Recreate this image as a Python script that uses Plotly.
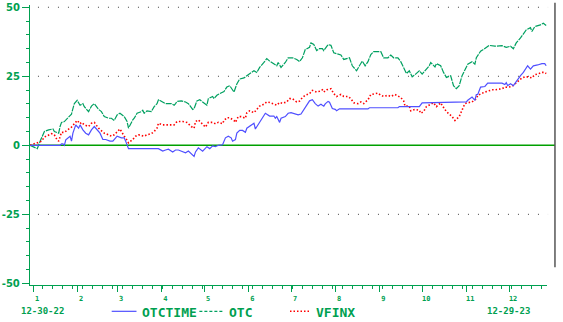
import pandas as pd
import plotly.graph_objects as go

# ---------------- data (days since 2022-12-30, % change) ----------------
start_date = "2022-12-30"

otc_days = [0,5,7,9,10,13,16,17,20,21,22,24,27,29,30,31,33,35,37,38,
            41,43,45,48,50,52,55,57,59,61,63,66,68,69,72,73,75,78,79,80,
            82,85,87,89,90,93,95,99,101,102,103,106,109,111,114,115,117,119,122,124,
            125,128,129,131,133,136,138,140,143,145,147,150,152,154,157,159,161,164,166,168,
            171,173,174,176,179,181,184,187,189,191,193,196,197,199,201,203,205,206,209,211,
            213,216,218,220,224,226,229,231,233,235,237,239,241,246,248,251,253,255,258,260,
            262,264,266,268,270,273,275,277,280,281,284,285,288,290,292,295,297,299,301,303,
            305,307,310,312,313,316,318,320,322,326,331,334,337,339,341,344,346,348,351,352,
            354,358,360,362]
otc_vals = [0,-1.2,1.5,3.8,5,5.6,5.9,5,4.4,6.8,8.3,8.6,10.4,11.3,13.3,15.1,16.3,14.5,15.1,14,
            12.2,14.2,15.1,13,12.2,10.4,9.8,9.8,9,11,11.6,10.4,8.6,6.2,9.2,9.8,11.6,12.2,12.7,11.6,
            12.5,12.2,14,15.1,16.5,15.7,15.1,15.1,14.5,15.1,15.9,16.1,15.7,15.1,13,13.3,16.1,16.5,15.4,14.5,
            16.9,17.7,16.9,18.1,18.7,19.5,21.1,21.6,19.3,22.2,24,24.4,25.2,26,27,26.4,28.2,30,31.4,30.5,
            29.6,28.8,30,28.2,30,31.7,31.7,31.1,30.3,31.7,34.7,35.5,37.1,36.5,34.3,35,35,34.3,36.5,36.2,
            33.5,32.9,32.7,31.1,31.7,28.8,27,28.8,30.5,28.8,30.3,32.9,33.9,33.9,31.7,31.7,32.7,31.7,31.7,30.3,
            28.2,26,27,24.8,25.6,27,25.8,27,28.8,30,28.4,29.6,28.8,26.4,24.6,25.2,21.6,20.5,21.6,25.2,
            27.6,29.4,30.3,29.4,31.7,34.1,34.7,35.3,36.2,35.9,36.1,35.5,35.9,35,37.1,38.9,40.6,41.8,42.6,41.2,
            43,43.6,44.2,43.4]

otctime_days = [0,21,22,23,24,25,28,29,30,32,34,35,37,39,41,43,45,48,49,51,
                53,56,58,60,61,64,66,67,68,69,90,93,95,97,100,102,104,107,109,111,
                114,115,116,118,121,123,124,126,128,130,132,135,136,137,139,141,142,144,145,147,
                149,151,152,154,157,158,160,162,164,165,168,171,172,173,175,176,179,181,183,186,
                188,190,192,194,196,198,200,202,204,205,206,207,209,210,212,214,215,217,237,238,
                258,259,273,275,285,286,306,307,310,311,312,313,314,316,319,321,326,331,333,334,
                335,337,339,341,342,344,346,348,349,351,353,356,359,361,362]
otctime_vals = [0,0,0.5,0.5,0,2,3.3,1.5,4.4,7.4,6.2,7.4,5.6,4.4,3.8,5.6,6.8,5,4.4,2.1,
                2.1,1.5,1.5,2.7,3.3,2.7,2.7,1.5,0.3,-1.2,-1.2,-2.1,-1.7,-1.4,-2.4,-1.7,-1.7,-2.4,-2.7,-2.1,
                -3.8,-4,-2.4,-0.9,-2.1,-1.2,-0.5,-1.2,-0.2,-0.5,0,0.2,1.5,2.7,3.3,2.7,1.5,2.1,4.4,5.4,
                5.4,4.7,6.2,6.8,8,5.9,7.4,9.2,10.4,11.6,10.6,10.6,9.8,10.4,8.3,9.8,10.4,11.6,11.8,11.3,
                11,11.3,13,14.5,16.1,16.5,15.1,14.2,14.9,14.5,14.2,15,15.9,15.6,13.3,13,12.5,13.2,13.2,13.6,
                13.6,14,14,15.4,15.5,15.7,15.7,16.3,17.5,16.9,16.3,18.4,18.4,21.1,21.3,22.5,22.5,22.5,22,22.7,
                21.6,22.3,21.6,23.2,24,25.2,26.4,27.9,28.8,27.6,28.8,29.1,29.6,29.6,28.8]

vfinx_days = [0,6,8,10,13,15,17,18,20,22,24,27,29,31,33,35,36,38,41,43,
              45,48,50,52,55,57,59,61,63,66,67,69,72,74,76,80,82,85,87,89,
              90,93,95,97,101,103,107,110,113,115,116,118,121,123,125,128,130,132,135,136,
              138,140,143,144,146,148,151,152,154,157,159,161,164,166,168,171,173,175,177,180,
              182,184,187,189,191,193,196,198,201,203,205,206,208,211,213,215,218,220,223,225,
              227,230,232,234,237,239,241,244,246,248,251,253,256,258,260,262,263,266,267,270,
              273,274,276,278,281,283,285,288,289,291,292,294,296,298,301,302,304,305,307,310,
              312,313,314,317,319,321,324,326,328,331,333,335,338,340,342,345,347,349,352,354,
              356,359,361,362]
vfinx_vals = [0,1.1,1.5,3,3.8,4.2,3.8,2.7,1.5,4.7,4.7,5.9,6.6,7.8,9,7.8,8.3,7.4,6.8,8,
              8.3,6.2,5.4,4.4,3.8,3.3,3.8,5,5.9,3.3,2.7,0.9,2.1,3.3,3.8,3.3,3.8,4.2,5,6.2,
              8,7.4,7.4,7.6,7.4,8.6,8.6,8.3,6.8,6.2,8.6,9.2,7.8,6.6,8.3,8.3,7.8,8.3,7.8,9,
              10,10,9,8.3,10.4,10.4,9.8,11.8,12.5,11.8,13,14.2,14.9,15.7,15.5,14.9,14.5,15.5,15.2,15.7,
              16.9,16.9,15.7,16,17.3,18.1,18.7,19.9,19.3,19.6,20.1,19.3,20.1,20.5,18.7,17.7,18.4,17.7,17.7,16.9,
              15.4,15.1,15.7,15.1,16.5,18.4,18.7,18.9,18.1,17.7,18.1,17.7,18.4,17.7,17.3,16.1,14.2,14.2,12.5,13,
              12.7,11.6,12.2,14,14.9,15.4,14,15.4,14.5,13,12.2,11.3,10.4,9,10.4,11.6,13.7,15.1,15.4,15.7,
              16.5,16.8,18.1,18.9,19.3,19.6,20.1,20.1,20.3,20.5,21.1,21,21.3,22.2,23.2,24.4,24.8,24.8,24.4,25.6,
              25.8,26.4,26.4,26]

month_starts = ["2023-%02d-01" % m for m in range(1, 13)]
month_labels = [str(m) for m in range(1, 13)]
y_ticks = [-50, -25, 0, 25, 50]
y_labels = ["-50", "-25", "0", "25", "50"]
grid_levels = [50, 25, -25]
series_names = ["OTCTIME", "OTC", "VFINX"]
start_label = "12-30-22"
end_label = "12-29-23"

# ---------------- figure ----------------
def to_dates(days):
    base = pd.Timestamp(start_date)
    return [base + pd.Timedelta(days=d) for d in days]

GREEN = "#00a050"
LINE_GREEN = "#00a060"
BLUE = "#5050ff"
RED = "#ff0000"
MONO = "DejaVu Sans Mono"

fig = go.Figure()
fig.add_trace(go.Scatter(x=to_dates(otc_days), y=otc_vals, mode="lines", name=series_names[1],
                         line=dict(color=LINE_GREEN, width=1.2, dash="6px,1px"), showlegend=False))
fig.add_trace(go.Scatter(x=to_dates(vfinx_days), y=vfinx_vals, mode="lines", name=series_names[2],
                         line=dict(color=RED, width=1.6, dash="1.5px,2px"), showlegend=False))
fig.add_trace(go.Scatter(x=to_dates(otctime_days), y=otctime_vals, mode="lines", name=series_names[0],
                         line=dict(color=BLUE, width=1.2), showlegend=False))

shapes = []
for lvl in grid_levels:
    shapes.append(dict(type="line", xref="paper", yref="y", x0=0.0154, x1=1.002, y0=lvl, y1=lvl,
                       line=dict(color="#444444", width=1, dash="1px,9px"), layer="below"))
# zero line
shapes.append(dict(type="line", xref="paper", yref="y", x0=0, x1=1.0154, y0=0, y1=0,
                   line=dict(color="#00a000", width=1.5), layer="below"))
# right frame line
shapes.append(dict(type="line", xref="paper", yref="paper", x0=1.0154, x1=1.0154, y0=0.063, y1=1.008,
                   line=dict(color="#555555", width=1.5)))
# legend samples
LEG_Y = -0.094
shapes.append(dict(type="line", xref="paper", yref="paper", x0=0.158, x1=0.206, y0=LEG_Y, y1=LEG_Y,
                   line=dict(color=BLUE, width=1.2)))
shapes.append(dict(type="line", xref="paper", yref="paper", x0=0.3276, x1=0.3757, y0=LEG_Y, y1=LEG_Y,
                   line=dict(color=LINE_GREEN, width=1.2, dash="3px,2px")))
shapes.append(dict(type="line", xref="paper", yref="paper", x0=0.5029, x1=0.5434, y0=LEG_Y, y1=LEG_Y,
                   line=dict(color=RED, width=1.4, dash="1.5px,2px")))

legfont = dict(family=MONO, size=13, color=GREEN, weight="bold")
datefont = dict(family=MONO, size=9, color=GREEN, weight="bold")
annotations = [
    dict(text=series_names[0], x=0.212, y=-0.098, xref="paper", yref="paper", xanchor="left",
         yanchor="middle", showarrow=False, font=legfont),
    dict(text=series_names[1], x=0.3815, y=-0.098, xref="paper", yref="paper", xanchor="left",
         yanchor="middle", showarrow=False, font=legfont),
    dict(text=series_names[2], x=0.549, y=-0.098, xref="paper", yref="paper", xanchor="left",
         yanchor="middle", showarrow=False, font=legfont),
    dict(text=start_label, x=-0.0212, y=-0.094, xref="paper", yref="paper", xanchor="left",
         yanchor="middle", showarrow=False, font=datefont),
    dict(text=end_label, x=0.8805, y=-0.094, xref="paper", yref="paper", xanchor="left",
         yanchor="middle", showarrow=False, font=datefont),
]

fig.update_layout(
    width=563, height=322,
    margin=dict(l=28, r=16, t=2, b=37),
    paper_bgcolor="white", plot_bgcolor="white",
    showlegend=False,
    shapes=shapes,
    annotations=annotations,
    xaxis=dict(
        type="date", range=["2022-12-29 21:30", "2023-12-27 14:00"],
        showline=True, linecolor=GREEN, linewidth=1.3,
        ticks="outside", ticklen=6, tickwidth=1.3, tickcolor=GREEN,
        tickvals=month_starts, ticktext=month_labels, ticklabelshift=4,
        tickfont=dict(family=MONO, size=7, color=GREEN, weight="bold"),
        ticklabeloverflow="allow",
        showgrid=False, zeroline=False,
        minor=dict(ticks="outside", ticklen=3, tickwidth=1, tickcolor=GREEN,
                   dtick=7 * 86400000, tick0="2023-01-01", showgrid=False),
    ),
    yaxis=dict(
        range=[-50.6, 50.82],
        showline=True, linecolor=GREEN, linewidth=1.3,
        ticks="outside", ticklen=7, tickwidth=1.3, tickcolor=GREEN,
        tickvals=y_ticks, ticktext=y_labels,
        tickfont=dict(family="DejaVu Sans", size=10, color=GREEN, weight="bold"),
        ticklabeloverflow="allow",
        showgrid=False, zeroline=False,
        minor=dict(ticks="outside", ticklen=3, tickwidth=1, tickcolor=GREEN,
                   dtick=5, tick0=0, showgrid=False),
    ),
)

fig.write_html("out.html")
